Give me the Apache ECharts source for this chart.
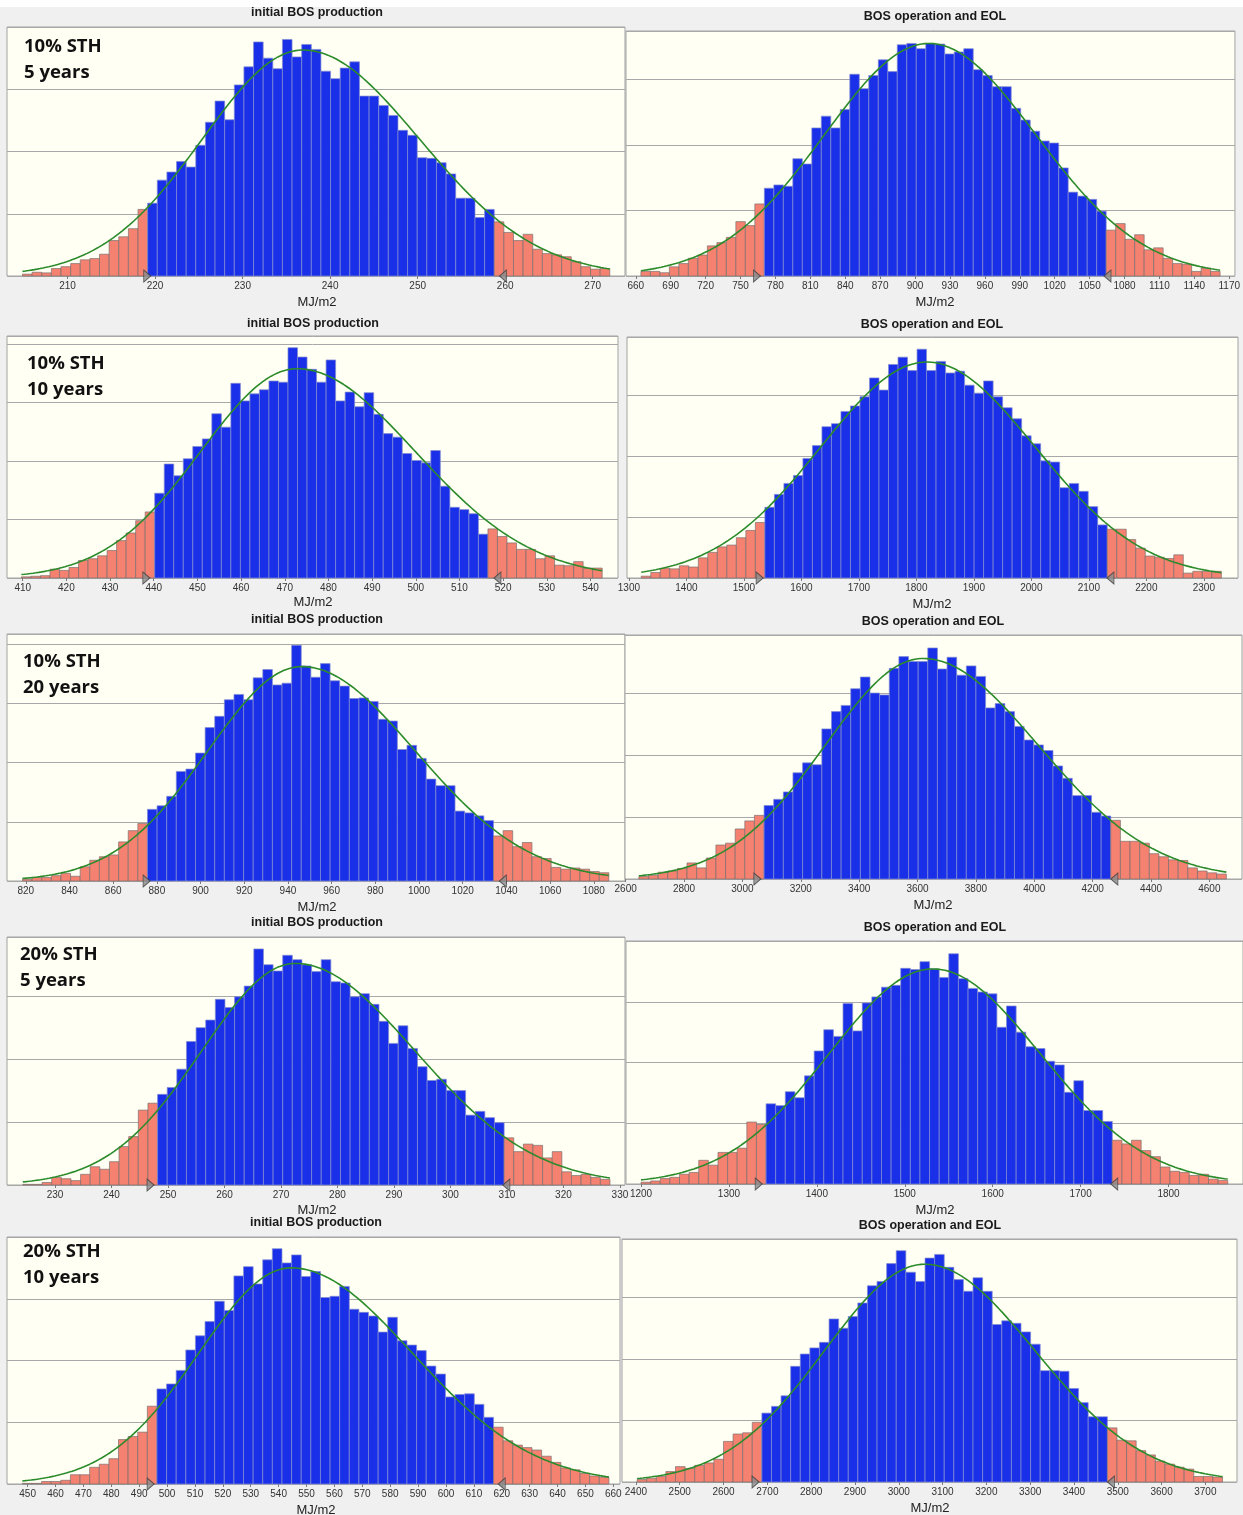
<!DOCTYPE html>
<html>
<head>
<meta charset="utf-8">
<script src="https://cdn.jsdelivr.net/npm/echarts@6/dist/echarts.min.js"></script>
<style>
  html, body { margin: 0; padding: 0; background: #f0f0f0; }
  #chart { width: 1243px; height: 1515px; }
</style>
</head>
<body>
<div id="chart"></div>
<script>
// ---- Simulated energy distributions (MJ/m2), relative frequency per bin ----
const titleInitial = 'initial BOS production';
const titleEol = 'BOS operation and EOL';
const caseLabels = [['10% STH', '5 years'], ['10% STH', '10 years'], ['10% STH', '20 years'], ['20% STH', '5 years'], ['20% STH', '10 years']];

// bin frequencies, panels in reading order (left: initial, right: operation + EOL)
const initial10s5y = [0.03,0.06,0.05,0.12,0.15,0.20,0.26,0.28,0.35,0.57,0.63,0.76,1.07,
  1.17,1.54,1.67,1.84,1.75,2.10,2.47,2.81,2.51,3.07,3.36,3.76,3.50,3.33,3.80,3.52,3.72,3.64,3.29,3.17,3.34,3.44,2.89,2.89,2.74,2.58,2.34,2.26,1.90,1.89,1.82,1.64,1.25,1.25,0.94,1.07,
  0.87,0.70,0.57,0.67,0.43,0.36,0.34,0.31,0.23,0.15,0.11,0.12];
const eol10s5y = [0.07,0.07,0.05,0.14,0.19,0.27,0.32,0.46,0.51,0.59,0.83,0.77,1.10,
  1.34,1.39,1.37,1.79,1.71,2.26,2.44,2.26,2.54,3.08,2.86,3.06,3.30,3.12,3.53,3.55,3.47,3.55,3.54,3.39,3.42,3.47,3.15,3.06,2.89,2.89,2.56,2.38,2.21,2.06,2.03,1.65,1.28,1.22,1.17,0.99,
  0.70,0.80,0.56,0.63,0.40,0.43,0.27,0.19,0.18,0.07,0.12,0.07];
const initial10s10y = [0.02,0.03,0.04,0.15,0.13,0.18,0.30,0.33,0.38,0.47,0.64,0.77,0.98,1.13,
  1.45,1.95,1.75,2.04,2.25,2.38,2.81,2.58,3.33,3.03,3.15,3.22,3.37,3.35,3.94,3.78,3.57,3.35,3.73,3.03,3.18,2.93,3.17,2.80,2.47,2.41,2.13,2.01,1.97,2.18,1.57,1.21,1.17,1.10,0.75,
  0.84,0.71,0.60,0.49,0.49,0.33,0.38,0.22,0.21,0.28,0.17,0.17];
const eol10s10y = [0.03,0.09,0.16,0.15,0.20,0.18,0.33,0.42,0.51,0.54,0.66,0.78,0.91,
  1.16,1.37,1.55,1.68,1.96,2.17,2.48,2.53,2.73,2.82,2.97,3.28,3.08,3.50,3.62,3.40,3.75,3.40,3.55,3.36,3.39,3.16,3.03,3.23,2.97,2.79,2.61,2.33,2.20,1.92,1.90,1.48,1.55,1.42,1.17,0.87,
  0.80,0.80,0.63,0.49,0.36,0.34,0.32,0.38,0.08,0.11,0.11,0.11];
const initial10s20y = [0.03,0.06,0.06,0.09,0.13,0.08,0.24,0.35,0.41,0.44,0.66,0.85,0.97,
  1.21,1.27,1.43,1.85,1.89,2.16,2.59,2.78,3.06,3.15,3.06,3.43,3.57,3.31,3.34,3.98,3.63,3.44,3.67,3.38,3.29,3.08,3.09,3.03,2.73,2.70,2.22,2.29,2.07,1.72,1.61,1.61,1.18,1.15,1.10,1.02,
  0.76,0.85,0.58,0.65,0.41,0.38,0.23,0.20,0.22,0.20,0.16,0.14];
const eol10s20y = [0.04,0.06,0.11,0.13,0.17,0.26,0.18,0.34,0.55,0.58,0.81,0.94,1.03,
  1.19,1.29,1.41,1.72,1.88,1.85,2.43,2.71,2.81,3.08,3.27,3.01,2.98,3.41,3.60,3.52,3.52,3.74,3.40,3.59,3.30,3.45,3.28,2.77,2.84,2.71,2.47,2.25,2.17,2.08,1.83,1.63,1.35,1.35,1.08,1.02,
  0.95,0.61,0.61,0.58,0.41,0.36,0.31,0.30,0.18,0.13,0.10,0.08];
const initial20s5y = [0.01,0.01,0.04,0.12,0.10,0.07,0.17,0.29,0.25,0.37,0.61,0.77,1.19,1.30,
  1.44,1.55,1.84,2.28,2.50,2.62,2.95,2.82,2.99,3.16,3.75,3.50,3.40,3.65,3.58,3.50,3.39,3.58,3.23,3.21,2.99,3.04,2.87,2.60,2.25,2.53,2.17,1.88,1.66,1.68,1.50,1.50,1.11,1.17,1.07,0.99,
  0.75,0.53,0.65,0.63,0.43,0.53,0.21,0.15,0.17,0.12,0.09];
const eol20s5y = [0.03,0.05,0.09,0.11,0.16,0.19,0.39,0.31,0.52,0.52,0.59,1.02,0.98,
  1.32,1.29,1.52,1.42,1.78,2.19,2.54,2.43,2.97,2.52,2.98,3.08,3.24,3.27,3.55,3.53,3.66,3.54,3.40,3.79,3.38,3.22,3.16,3.13,2.58,2.93,2.50,2.26,2.23,2.02,1.96,1.51,1.70,1.21,1.21,1.03,
  0.72,0.66,0.72,0.55,0.45,0.28,0.21,0.19,0.14,0.16,0.08,0.06];
const initial20s10y = [0.01,0.01,0.04,0.04,0.06,0.15,0.15,0.27,0.32,0.41,0.72,0.77,0.84,1.26,
  1.54,1.62,1.84,2.17,2.40,2.63,2.96,2.81,3.37,3.52,3.24,3.63,3.81,3.58,3.71,3.36,3.44,3.02,3.04,3.20,2.83,2.78,2.72,2.46,2.70,2.32,2.25,2.16,1.91,1.78,1.41,1.45,1.46,1.29,1.08,
  0.92,0.70,0.63,0.59,0.55,0.45,0.35,0.26,0.23,0.17,0.13,0.11];
const eol20s10y = [0.04,0.06,0.09,0.17,0.25,0.22,0.27,0.31,0.37,0.66,0.78,0.80,0.97,
  1.12,1.23,1.40,1.88,2.08,2.18,2.27,2.65,2.50,2.69,2.91,3.19,3.26,3.55,3.76,3.41,3.26,3.64,3.70,3.49,3.29,3.10,3.32,3.10,2.56,2.62,2.58,2.44,2.24,1.81,1.81,1.80,1.52,1.29,1.06,1.06,
  0.88,0.68,0.67,0.51,0.44,0.34,0.29,0.24,0.21,0.09,0.09,0.08];

const frequencies = [initial10s5y, eol10s5y, initial10s10y, eol10s10y, initial10s20y, eol10s20y,
  initial20s5y, eol20s5y, initial20s10y, eol20s10y];

// first bin edge and bin width (MJ/m2)
const binStart = [204.85, 664.4, 409.7, 1321.5, 818.5, 2645.2, 224.3, 1200, 448.1, 2402.7];
const binWidth = [1.100, 8.16, 2.18, 16.54, 4.40, 33.0, 1.704, 10.94, 3.448, 21.91];
// bins outside the 90% certainty range: [low tail, high tail]
const tailBins = [[13, 12], [13, 12], [14, 12], [13, 12], [13, 12], [13, 12], [14, 11], [13, 12], [14, 12], [13, 12]];
// certainty range grabbers (5% / 95%)
const lowerBound = [219.1, 764.1, 438.3, 1527.4, 875.3, 3051.2, 246.9, 1333.8, 494.1, 2673.0];
const upperBound = [259.75, 1065.4, 518.7, 2137.6, 1038.4, 4274.6, 309.9, 1738.3, 620.0, 3484.6];
// fitted density: peak height, mode, spread below and above the mode
const fitPeak = [3.63, 3.55, 3.58, 3.54, 3.62, 3.57, 3.52, 3.54, 3.50, 3.54];
const fitMode = [236.9, 912, 472.8, 1818.7, 946.3, 3618.7, 272.5, 1532, 544.4, 3059.7];
const fitSdLow = [11.5, 90, 22, 185, 43, 335, 16.5, 118, 33, 228];
const fitSdHigh = [13.3, 92, 27, 188, 52, 395, 21.2, 122, 43.5, 250];
// visible x-axis extent
const axisMin = [203.08, 651.6, 406.4, 1296.7, 811.4, 2597.7, 221.5, 1182.9, 442.6, 2368.2];
const axisMax = [273.69, 1174.9, 546.3, 2359.4, 1094.3, 4711.8, 330.9, 1884.7, 662.4, 3772.2];
const yMax = [4.0, 3.74, 4.14, 3.95, 4.17, 3.95, 3.94, 4.0, 4.0, 3.95];

function range(a, b, step) { const out = []; for (let v = a; v <= b + 1e-9; v += step) out.push(v); return out; }
const tickLabels = [
  range(210, 270, 10), range(660, 1170, 30), range(410, 540, 10), range(1300, 2300, 100),
  range(820, 1080, 20), range(2600, 4600, 200), range(230, 330, 10), range(1200, 1800, 100),
  range(450, 660, 10), range(2400, 3700, 100)
];

// ---- layout (pixels): plot box [left, top, right, bottom], title and axis-name anchors ----
const plotBox = [
  [7, 27, 625, 276], [626, 31, 1243, 276],
  [7, 336, 618, 578], [627, 337, 1238, 578],
  [7, 634, 625, 881], [625, 635, 1242, 879],
  [7, 937, 625, 1185], [626, 941, 1243, 1184],
  [7, 1237, 620, 1484], [622, 1239, 1237, 1482]
];
const titlePos = [[317, 13], [935, 17], [313, 324], [932, 325], [317, 620], [933, 622], [317, 923], [935, 928], [316, 1223], [930, 1226]];
const unitPos = [[317, 302], [935, 302], [313, 602], [932, 604], [317, 907], [933, 905], [317, 1210], [935, 1210], [316, 1510], [930, 1508]];
const casePos = [[24, 47], [27, 364], [23, 662], [20, 955], [23, 1252]];

const BLUE = '#1a30e8', SALMON = '#f58170', GREEN = '#2b8b2b';

const grids = [], xAxes = [], yAxes = [], series = [], graphics = [];

graphics.push({ type: 'rect', shape: { x: 0, y: 0, width: 1243, height: 7 }, style: { fill: '#ffffff' }, z: 0 });

frequencies.forEach((freq, i) => {
  const [l, t, r, b] = plotBox[i];
  grids.push({ left: l, top: t, width: r - l, height: b - t, show: true,
    backgroundColor: '#fffff3', borderColor: '#a3a3a3', borderWidth: 1 });
  xAxes.push({
    gridIndex: i, type: 'value', min: axisMin[i], max: axisMax[i],
    axisLine: { show: false }, splitLine: { show: false },
    axisTick: { show: true, customValues: tickLabels[i], length: 3, lineStyle: { color: '#7a7a7a' } },
    axisLabel: { customValues: tickLabels[i], fontSize: 10, color: '#333', margin: 5,
      formatter: v => String(Math.round(v)),
      fontFamily: 'Liberation Sans, Arial, sans-serif', hideOverlap: false }
  });
  yAxes.push({
    gridIndex: i, type: 'value', min: 0, max: yMax[i], interval: 1,
    axisLabel: { show: false }, axisLine: { show: false }, axisTick: { show: false },
    splitLine: { show: true, lineStyle: { color: '#a8a8a8', width: 1 } }
  });

  const nLow = tailBins[i][0], nHigh = tailBins[i][1];
  const bars = freq.map((h, k) => {
    const x0 = binStart[i] + k * binWidth[i];
    const tail = (k < nLow || k >= freq.length - nHigh) ? 1 : 0;
    return [x0, x0 + binWidth[i], h, tail];
  });
  series.push({
    type: 'custom', xAxisIndex: i, yAxisIndex: i, data: bars, encode: { x: [0, 1], y: 2 },
    silent: true, z: 2,
    renderItem: (params, api) => {
      const p0 = api.coord([api.value(0), 0]);
      const p1 = api.coord([api.value(1), api.value(2)]);
      const tail = api.value(3) === 1;
      return { type: 'rect',
        shape: { x: p0[0], y: p1[1], width: p1[0] - p0[0], height: p0[1] - p1[1] },
        style: { fill: tail ? SALMON : BLUE, stroke: tail ? 'rgba(120,110,110,0.85)' : 'rgba(130,140,210,0.9)', lineWidth: 0.8 } };
    }
  });

  // fitted density curve over the simulated range
  const x0 = binStart[i], x1 = binStart[i] + freq.length * binWidth[i];
  const curve = [];
  for (let s = 0; s <= 200; s++) {
    const x = x0 + (x1 - x0) * s / 200;
    const sd = x < fitMode[i] ? fitSdLow[i] : fitSdHigh[i];
    curve.push([x, fitPeak[i] * Math.exp(-0.5 * Math.pow((x - fitMode[i]) / sd, 2))]);
  }
  series.push({ type: 'line', xAxisIndex: i, yAxisIndex: i, data: curve, showSymbol: false,
    smooth: false, silent: true, z: 3, lineStyle: { color: GREEN, width: 1.6 } });

  series.push({ type: 'scatter', xAxisIndex: i, yAxisIndex: i, clip: false, silent: true, z: 5,
    symbol: 'triangle', symbolSize: [12, 7],
    itemStyle: { color: '#8c8c8c', borderColor: '#3c3c3c', borderWidth: 1 },
    data: [{ value: [lowerBound[i], 0], symbolRotate: -90 }, { value: [upperBound[i], 0], symbolRotate: 90 }] });

  graphics.push({ type: 'text', x: titlePos[i][0], y: titlePos[i][1], z: 10,
    style: { text: i % 2 === 0 ? titleInitial : titleEol, align: 'center', verticalAlign: 'middle',
      font: 'bold 12.5px "Liberation Sans", Arial, sans-serif', fill: '#1a1a1a' } });
  graphics.push({ type: 'text', x: unitPos[i][0], y: unitPos[i][1], z: 10,
    style: { text: 'MJ/m2', align: 'center', verticalAlign: 'middle',
      font: '13px "Liberation Sans", Arial, sans-serif', fill: '#222' } });
});

caseLabels.forEach((lines, j) => {
  lines.forEach((txt, k) => {
    graphics.push({ type: 'text', x: casePos[j][0], y: casePos[j][1] + k * 26, z: 10,
      style: { text: txt, align: 'left', verticalAlign: 'middle',
        font: 'bold 18.5px "Open Sans", sans-serif', fill: '#111' } });
  });
});

const chart = echarts.init(document.getElementById('chart'), null, { renderer: 'canvas' });
chart.setOption({
  animation: false,
  backgroundColor: '#f0f0f0',
  grid: grids, xAxis: xAxes, yAxis: yAxes, series: series, graphic: graphics
});
</script>
</body>
</html>
